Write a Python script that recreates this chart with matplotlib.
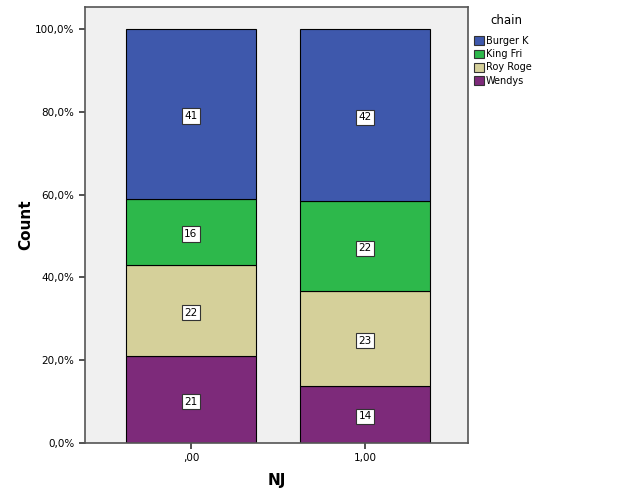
import matplotlib.pyplot as plt
import numpy as np

# counts per chain for each NJ group
nj_labels = [',00', '1,00']
chains = ['Burger K', 'King Fri', 'Roy Roge', 'Wendys']
wendys = [21, 14]
roy_roge = [22, 23]
king_fri = [16, 22]
burger_k = [41, 42]
colors = {'Burger K': '#3e58ac', 'King Fri': '#2db84b',
          'Roy Roge': '#d5d09a', 'Wendys': '#7d2a7a'}

counts = {'Wendys': wendys, 'Roy Roge': roy_roge,
          'King Fri': king_fri, 'Burger K': burger_k}
totals = np.array(wendys) + np.array(roy_roge) + np.array(king_fri) + np.array(burger_k)

fig = plt.figure(figsize=(6.29, 5.04), dpi=100)
ax = fig.add_axes([0.135, 0.121, 0.609, 0.865])
ax.set_facecolor('#f0f0f0')

x = np.arange(len(nj_labels))
bottom = np.zeros(len(x))
# stack from bottom: Wendys, Roy Roge, King Fri, Burger K
for name in ['Wendys', 'Roy Roge', 'King Fri', 'Burger K']:
    vals = np.array(counts[name])
    pct = vals / totals * 100
    ax.bar(x, pct, width=0.747, bottom=bottom, color=colors[name],
           edgecolor='black', linewidth=0.8)
    for xi, b, p, v in zip(x, bottom, pct, vals):
        # labels sit a touch below the segment centre, like SPSS does
        ax.text(xi, b + p / 2 - 0.5, str(v), ha='center', va='center', fontsize=7.5,
                bbox=dict(boxstyle='square,pad=0.25', fc='white', ec='#333333', lw=0.8))
    bottom += pct

ax.set_xlim(-0.609, 1.592)
ax.set_ylim(0, 105.3)
ax.set_xticks(x)
ax.set_xticklabels(nj_labels, fontsize=7.5)
yt = [0, 20, 40, 60, 80, 100]
ax.set_yticks(yt)
ax.set_yticklabels(['{:.1f}%'.format(v).replace('.', ',') for v in yt], fontsize=7.5)
ax.tick_params(length=4, width=1.2, color='#333333')
for s in ax.spines.values():
    s.set_color('#555555')
    s.set_linewidth(1.2)

ax.set_xlabel('NJ', fontsize=11, fontweight='bold', labelpad=7)
ax.set_ylabel('Count', fontsize=11, fontweight='bold', labelpad=1)

# legend, title drawn on its own so the gap matches
fig.text(0.78, 0.96, 'chain', fontsize=8.5, va='center', ha='left')
handles = [plt.Rectangle((0, 0), 1, 1, fc=colors[c], ec='#333333', lw=0.8) for c in chains]
leg = fig.legend(handles, chains, loc='upper left',
                 bbox_to_anchor=(0.745, 0.94), frameon=False, fontsize=7,
                 handlelength=1.0, handleheight=1.0,
                 handletextpad=0.2, labelspacing=0.33, borderaxespad=0.2)

fig.savefig('out.png', dpi=100)
plt.close(fig)
